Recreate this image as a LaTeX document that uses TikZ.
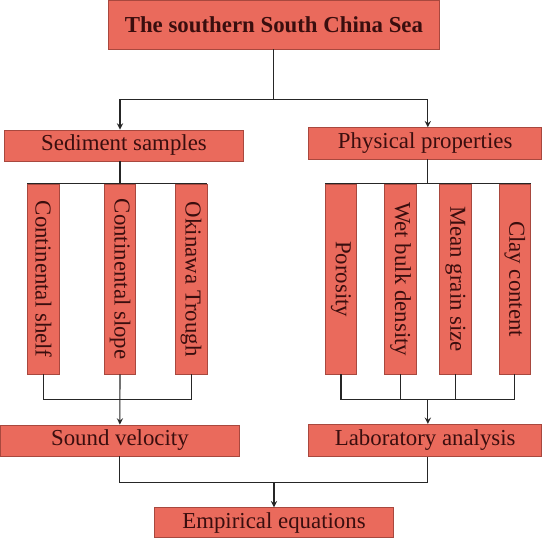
\documentclass[tikz,border=0pt]{standalone}
\usepackage{fontspec}
\setmainfont{Liberation Serif}
\usepackage{graphicx}
\usetikzlibrary{calc}
\definecolor{boxfill}{RGB}{234,106,92}
\definecolor{boxline}{RGB}{168,72,62}
\definecolor{boxtext}{RGB}{58,14,14}
\tikzset{
	box/.style={draw=boxline,fill=boxfill,text=boxtext,inner sep=0pt,line width=0.5pt,font=\fontsize{13}{15}\selectfont},
	hbox/.style={box,minimum height=0.62cm},
	vbox/.style={box,minimum width=0.63cm,minimum height=3.794cm},
	link/.style={line width=0.6pt,draw=black!85}
}
\begin{document}
\begin{tikzpicture}[>=stealth,x=0.02cm,y=-0.02cm]
			\useasboundingbox (0,0) rectangle (550,550);
			\def\vy{279.15} % centre of the upright boxes
			\node[box,minimum width=6.606cm,minimum height=0.97cm,font=\fontsize{13}{15}\selectfont\bfseries] (top) at (273.9,24.75) {The southern South China Sea};
			\node[hbox,minimum width=4.788cm] (sed) at (124,145.5) {Sediment samples};
			\node[hbox,minimum width=4.66cm,minimum height=0.626cm] (phys) at (425.2,143.35) {Physical properties};
			\node[vbox] (shelf) at (43.5,\vy) {\rotatebox{-90}{Continental shelf}};
			\node[vbox] (slope) at (120,\vy) {\rotatebox{-90}{Continental slope}};
			\node[vbox] (trough) at (191.2,\vy) {\rotatebox{-90}{Okinawa Trough}};
			\node[vbox] (poro) at (341,\vy) {\rotatebox{-90}{Porosity}};
			\node[vbox] (wbd) at (400.5,\vy) {\rotatebox{-90}{Wet bulk density}};
			\node[vbox] (mgs) at (455.4,\vy) {\rotatebox{-90}{Mean grain size}};
			\node[vbox] (clay) at (514.7,\vy) {\rotatebox{-90}{Clay content}};
			\node[hbox,minimum width=4.776cm] (sound) at (119.9,440.5) {Sound velocity};
			\node[hbox,minimum width=4.66cm,minimum height=0.64cm] (lab) at (425.2,440.3) {Laboratory analysis};
			\node[hbox,minimum width=4.786cm,minimum height=0.6cm] (emp) at (274,522.7) {Empirical equations};
			% top split
			\coordinate (split) at ($(top.south)+(0,50)$);
			\coordinate (rmid) at ($(poro.north)!.5!(clay.north)$);
			\draw[link] (top.south) -- (split);
			\draw[link,->] (split) -| (slope.north |- sed.north);
			\draw[link,->] (split) -| (rmid |- phys.north);
			\draw[link] (sed.south -| slope.north) -- (slope.north);
			\draw[link] (phys.south -| rmid) -- (rmid);
			\draw[link] (shelf.north west) -- (trough.north east);
			\draw[link] (poro.north west) -- (clay.north east);
			% lower brackets
			\coordinate (rbar) at ($(poro.south)!.5!(clay.south)+(0,25.3)$);
			\draw[link] (shelf.south) -- ++(0,25.3) -| (trough.south);
			\draw[link,->] (slope.south) -- (sound.north);
			\draw[link] (poro.south) -- ++(0,25.3) -| (clay.south);
			\draw[link] (wbd.south) -- ++(0,25.3);
			\draw[link] (mgs.south) -- ++(0,25.3);
			\draw[link,->] (rbar) -- (rbar |- lab.north);
			\path (sound.south) ++(0,25.7) coordinate (bjoin);
			\draw[link] (sound.south) -- (bjoin) -| (lab.south -| rbar);
			\draw[link,->] (bjoin -| emp.north) -- (emp.north);
	\end{tikzpicture}
\end{document}
